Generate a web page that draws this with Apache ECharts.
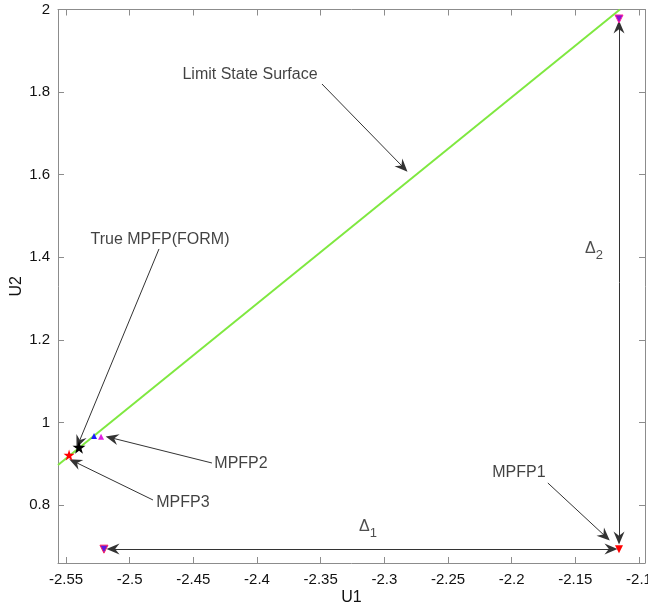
<!DOCTYPE html>
<html>
<head>
<meta charset="utf-8">
<script src="https://cdn.jsdelivr.net/npm/echarts@6/dist/echarts.min.js"></script>
<style>
  html, body { margin: 0; padding: 0; background: #fff; }
  #chart { width: 648px; height: 611px; }
</style>
</head>
<body>
<div id="chart"></div>
<script>
// axis ticks
const xTicks = [-2.55, -2.5, -2.45, -2.4, -2.35, -2.3, -2.25, -2.2, -2.15, -2.1];
const yTicks = [0.8, 1, 1.2, 1.4, 1.6, 1.8, 2];

// limit state surface (straight line)
const limitX = [-2.5563, -2.115];
const limitY = [0.897, 2.0];

// points
const mpfpTrue = [-2.5398, 0.940];
const mpfp3 = [-2.5476, 0.921];
const mpfp2Blue = [-2.528, 0.967];
const mpfp2Mag = [-2.5225, 0.965];
const mpfp1 = [-2.1157, 0.693];
const delta1Start = [-2.5202, 0.693];
const delta2Top = [-2.1157, 1.977];

// annotation arrows: [fromX, fromY, toX, toY]
const arrows = [
  [-2.349, 1.8196, -2.2854, 1.6186],
  [-2.477, 1.42, -2.5398, 0.9525],
  [-2.4354, 0.9017, -2.5139, 0.9622],
  [-2.4817, 0.8121, -2.5429, 0.9041],
  [-2.1716, 0.8533, -2.1267, 0.7248]
];
const doubleArrows = [
  [-2.5131, 0.6934, -2.122, 0.6934],
  [-2.1157, 1.9576, -2.1157, 0.72]
];

// annotation texts
const noteText = ['Limit State Surface', 'True MPFP(FORM)', 'MPFP2', 'MPFP3', 'MPFP1', '{d|Δ}{s|1}', '{d|Δ}{s|2}'];
const noteX = [-2.4055, -2.4762, -2.4126, -2.4582, -2.1943, -2.3129, -2.1353];
const noteY = [1.8414, 1.4418, 0.8993, 0.8048, 0.8775, 0.7394, 1.4127];

const font = 'Liberation Sans, Arial, sans-serif';
const star = 'path://M50,0 L61,35 L98,35 L68,57 L79,91 L50,70 L21,91 L32,57 L2,35 L39,35 Z';
const head = 'path://M5,0 L10,12 L5,8 L0,12 Z';

const chart = echarts.init(document.getElementById('chart'));

const axisCommon = {
  type: 'value',
  nameMoveOverlap: false,
  axisLine: { show: true, onZero: false, lineStyle: { color: '#8c8c8c', width: 1 } },
  splitLine: { show: false }
};

const pt = (p, symbol, size, color, border, rotate) => ({
  type: 'scatter',
  data: [p],
  symbol: symbol,
  symbolSize: size,
  symbolRotate: rotate || 0,
  itemStyle: { color: color, borderColor: border || color, borderWidth: border ? 1 : 0, opacity: 1 },
  z: 5
});

const lineData = limitX.map((x, i) => [x, limitY[i]]);

let option = {
  backgroundColor: '#fff',
  animation: false,
  grid: { left: 58, right: 3, top: 9.5, bottom: 48, containLabel: false, outerBoundsMode: 'none' },
  xAxis: [
    Object.assign({}, axisCommon, {
      min: -2.5563, max: -2.0953, position: 'bottom',
      name: 'U1', nameLocation: 'middle', nameGap: 27,
      nameTextStyle: { fontFamily: font, fontSize: 16, color: '#111' },
      axisTick: { inside: true, length: 6, lineStyle: { color: '#8c8c8c' }, customValues: xTicks },
      axisLabel: { fontFamily: font, fontSize: 15, color: '#111', margin: 9, customValues: xTicks, formatter: v => String(+v.toFixed(2)) }
    }),
    Object.assign({}, axisCommon, {
      min: -2.5563, max: -2.0953, position: 'top',
      axisTick: { inside: true, length: 6, lineStyle: { color: '#8c8c8c' }, customValues: xTicks },
      axisLabel: { show: false }
    })
  ],
  yAxis: [
    Object.assign({}, axisCommon, {
      min: 0.6595, max: 2.0, position: 'left',
      name: 'U2', nameLocation: 'middle', nameGap: 33,
      nameTextStyle: { fontFamily: font, fontSize: 16, color: '#111' },
      axisTick: { inside: true, length: 6, lineStyle: { color: '#8c8c8c' }, customValues: yTicks },
      axisLabel: { fontFamily: font, fontSize: 15, color: '#111', margin: 8, customValues: yTicks, formatter: v => String(+v.toFixed(1)) }
    }),
    Object.assign({}, axisCommon, {
      min: 0.6595, max: 2.0, position: 'right',
      axisTick: { inside: true, length: 6, lineStyle: { color: '#8c8c8c' }, customValues: yTicks },
      axisLabel: { show: false }
    })
  ],
  series: [
    {
      type: 'line',
      data: lineData,
      symbol: 'none',
      lineStyle: { color: '#7fe840', width: 2 },
      z: 3,
      markLine: {
        silent: true,
        symbol: ['none', head],
        symbolSize: [11, 13],
        label: { show: false },
        lineStyle: { color: '#333', width: 1, type: 'solid' },
        emphasis: { disabled: true },
        data: arrows.map(a => [{ coord: [a[0], a[1]] }, { coord: [a[2], a[3]] }])
          .concat(doubleArrows.map(a => [
            { coord: [a[0], a[1]], symbol: head },
            { coord: [a[2], a[3]] }
          ]))
      }
    },
    pt(mpfp3, star, 11, '#ff0000'),
    pt(mpfpTrue, star, 13, '#000000'),
    pt(mpfp2Blue, 'triangle', 6, '#1a1aff'),
    pt(mpfp2Mag, 'triangle', 6, '#e020e0'),
    pt(mpfp1, 'triangle', 8, '#ff0000', null, 180),
    pt(delta1Start, 'triangle', 8, '#5a1adf', '#ff2060', 180),
    pt(delta2Top, 'triangle', 8, '#8a10d0', '#ff20a0', 180),
    {
      type: 'scatter',
      data: noteX.map((x, i) => [x, noteY[i], noteText[i]]),
      symbolSize: 0,
      silent: true,
      z: 6,
      label: {
        show: true,
        position: 'inside',
        formatter: p => p.data[2],
        fontFamily: font,
        fontSize: 16,
        color: '#111',
        rich: {
          d: { fontFamily: font, fontSize: 16, color: '#222', padding: [0, 0, 7, 0] },
          s: { fontFamily: font, fontSize: 13, color: '#222', padding: [7, 0, 0, 0] }
        }
      }
    }
  ]
};

chart.setOption(option);
</script>
</body>
</html>
